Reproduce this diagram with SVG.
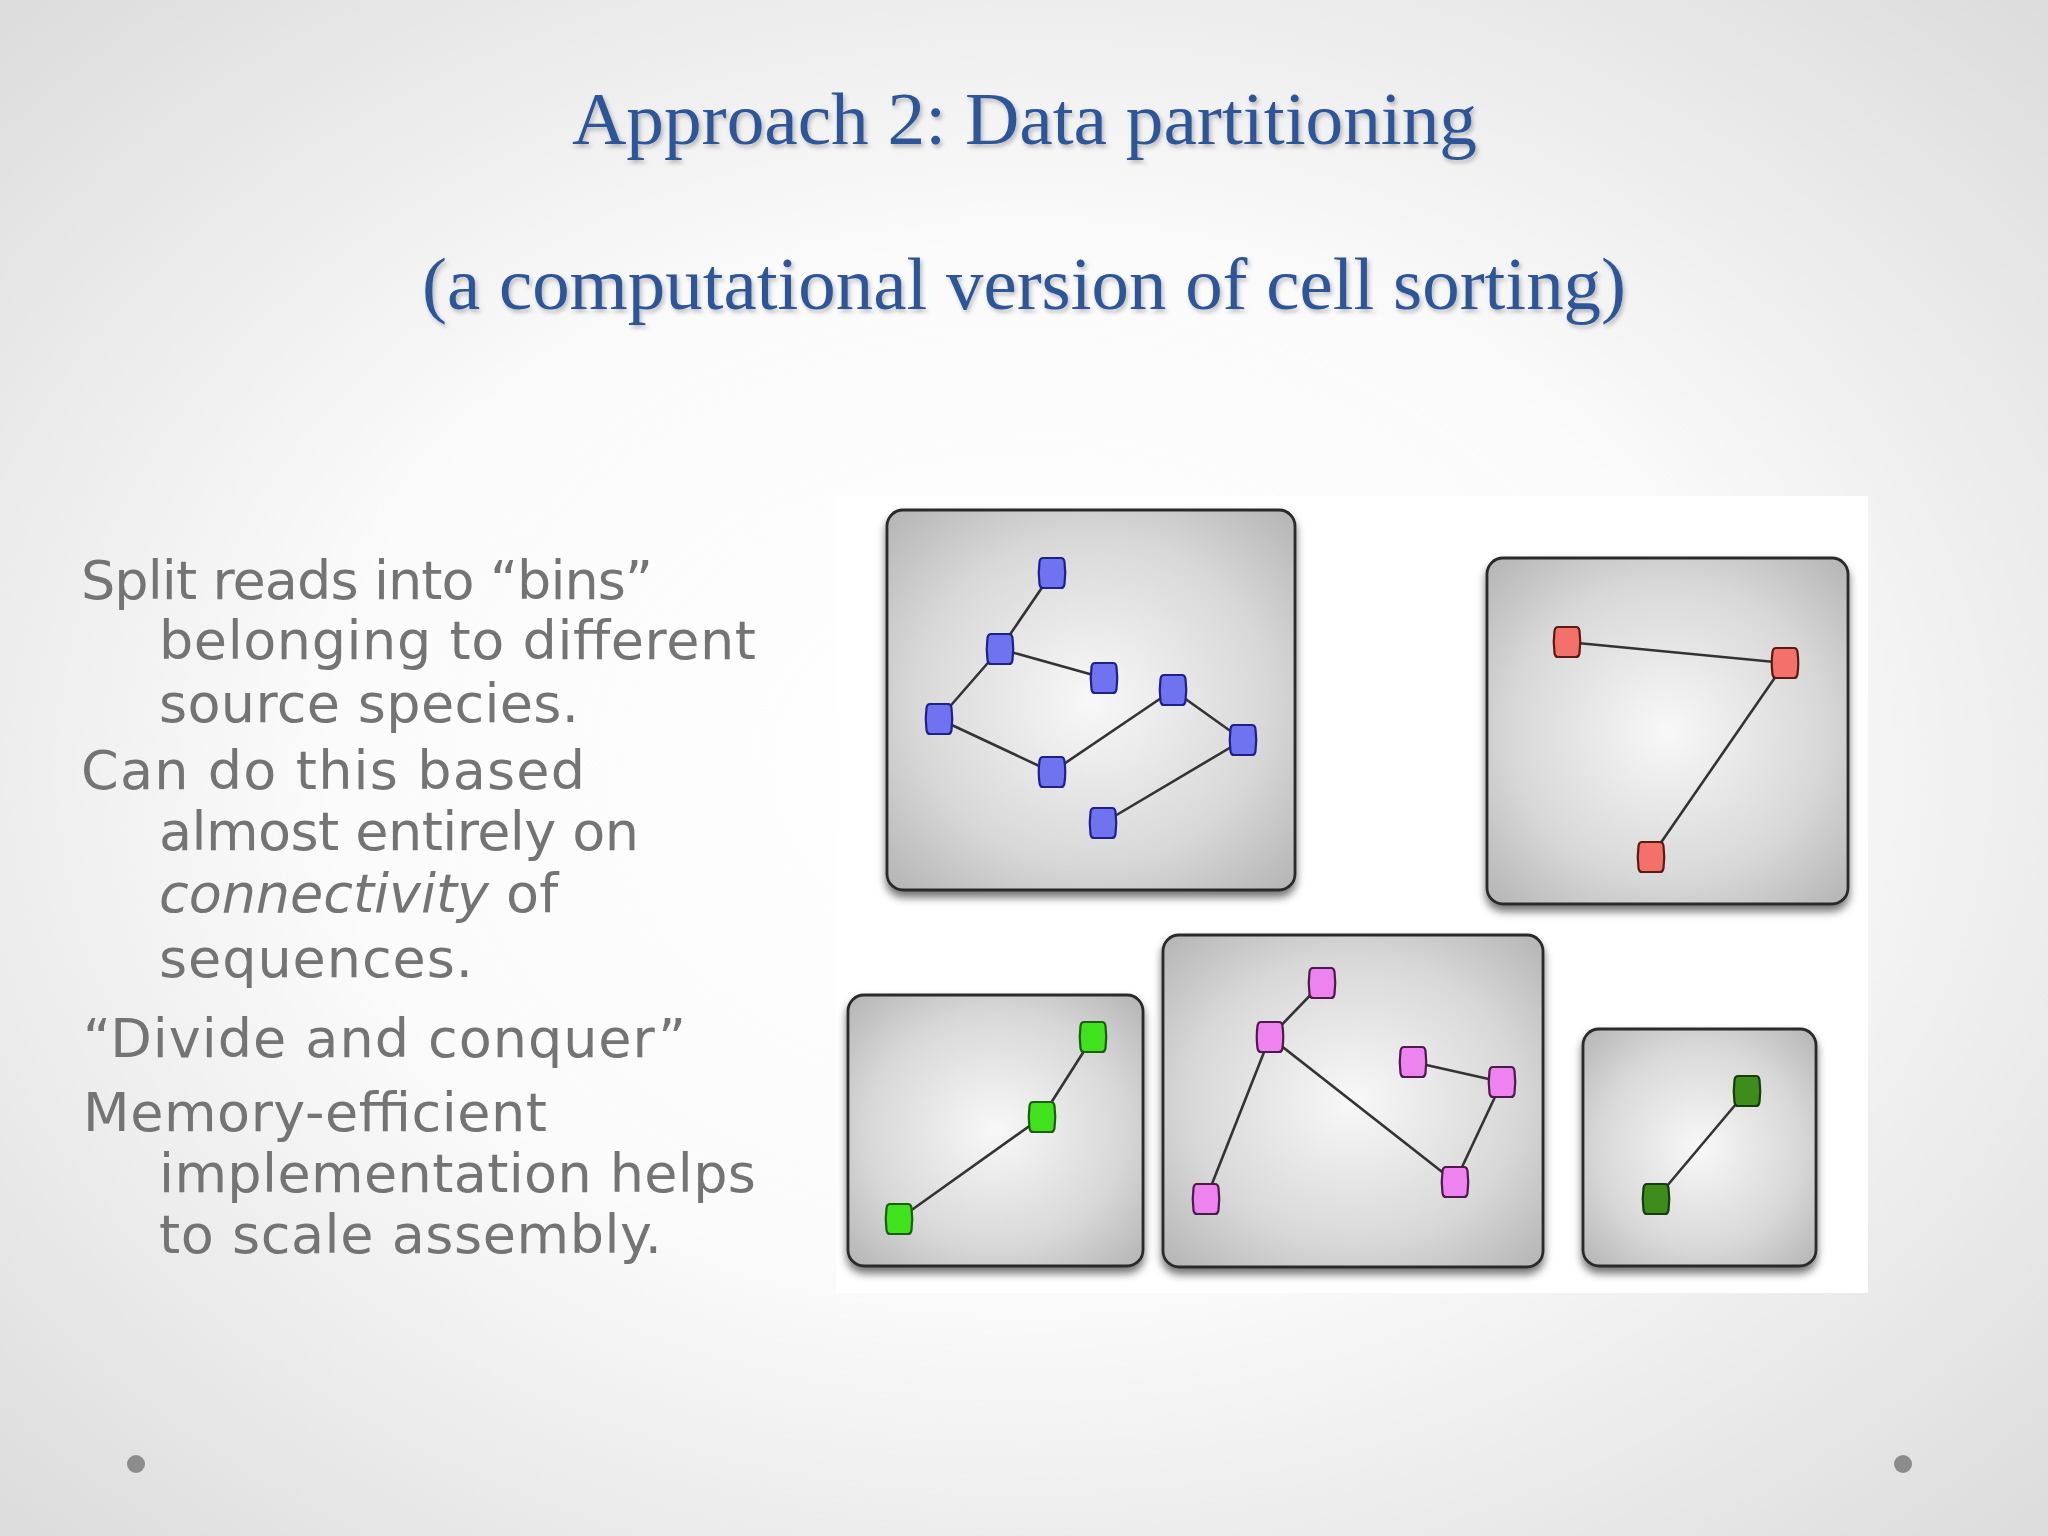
<svg xmlns="http://www.w3.org/2000/svg" xmlns:xlink="http://www.w3.org/1999/xlink" width="2048" height="1536" viewBox="0 0 2048 1536">
<defs>
  <radialGradient id="bg" cx="0.5" cy="0.5" r="0.75">
    <stop offset="0" stop-color="#ffffff"/>
    <stop offset="0.45" stop-color="#fbfbfb"/>
    <stop offset="1" stop-color="#d8d8d8"/>
  </radialGradient>
  <radialGradient id="panelFill" cx="0.5" cy="0.5" r="0.72">
    <stop offset="0" stop-color="#f8f8f8"/>
    <stop offset="0.6" stop-color="#d8d8d8"/>
    <stop offset="1" stop-color="#b2b2b2"/>
  </radialGradient>
  <filter id="panelShadow" x="-10%" y="-10%" width="120%" height="125%">
    <feDropShadow dx="0" dy="6" stdDeviation="4" flood-color="#000" flood-opacity="0.55"/>
  </filter>
  <filter id="titleShadow" x="-5%" y="-20%" width="110%" height="150%">
    <feDropShadow dx="2" dy="3" stdDeviation="2" flood-color="#000" flood-opacity="0.25"/>
  </filter>
  <path id="vtx" d="M -9,-15 L 9,-15 Q 12,-15 12.5,-11 Q 14,0 12.5,11 Q 12,15 9,15 L -9,15 Q -12,15 -12.5,11 Q -14,0 -12.5,-11 Q -12,-15 -9,-15 Z"/>
  <style>
    .title { font-family: "Liberation Serif", "Times New Roman", serif; font-size: 75px; fill: #2f5597; filter: url(#titleShadow); }
    .body { font-family: "DejaVu Sans", "Liberation Sans", sans-serif; font-size: 54px; fill: #747474; }
    .panel { fill: url(#panelFill); stroke: #2b2b2b; stroke-width: 2.8; filter: url(#panelShadow); }
    .edge { stroke: #333333; stroke-width: 2.6; fill: none; }
    .blue { fill: #6f73f0; stroke: #1f218a; stroke-width: 2.2; }
    .red { fill: #f4706a; stroke: #5c1a14; stroke-width: 2.2; }
    .lime { fill: #3fe21d; stroke: #1d5e12; stroke-width: 2.2; }
    .pink { fill: #ee82ee; stroke: #4d1a4a; stroke-width: 2.2; }
    .dgreen { fill: #3d8c1c; stroke: #173d0c; stroke-width: 2.2; }
    .dot { fill: #8c8c8c; }
  </style>
</defs>

<rect x="0" y="0" width="2048" height="1536" fill="url(#bg)"/>

<text class="title" x="572" y="144" textLength="905" lengthAdjust="spacingAndGlyphs">Approach 2: Data partitioning</text>
<text class="title" x="422" y="309" textLength="1204" lengthAdjust="spacingAndGlyphs">(a computational version of cell sorting)</text>

<g id="bullets">
  <text class="body" x="81" y="599" textLength="572">Split reads into “bins”</text>
  <text class="body" x="159" y="659" textLength="597">belonging to different</text>
  <text class="body" x="159" y="722" textLength="420">source species.</text>
  <text class="body" x="81" y="789" textLength="504">Can do this based</text>
  <text class="body" x="159" y="850" textLength="480">almost entirely on</text>
  <text class="body" x="159" y="912"><tspan font-style="italic" textLength="330">connectivity</tspan><tspan> of</tspan></text>
  <text class="body" x="159" y="977" textLength="314">sequences.</text>
  <text class="body" x="83" y="1057" textLength="603">“Divide and conquer”</text>
  <text class="body" x="83" y="1131" textLength="464">Memory-efficient</text>
  <text class="body" x="159" y="1192" textLength="597">implementation helps</text>
  <text class="body" x="159" y="1253" textLength="503">to scale assembly.</text>
</g>

<rect x="836" y="496" width="1032" height="797" fill="#ffffff"/>

<g id="panel-blue"><rect class="panel" x="887" y="510" width="408" height="380" rx="16"/></g>
<g id="panel-red"><rect class="panel" x="1487" y="558" width="361" height="346" rx="16"/></g>
<g id="panel-lime"><rect class="panel" x="848" y="995" width="295" height="271" rx="16"/></g>
<g id="panel-pink"><rect class="panel" x="1163" y="935" width="380" height="332" rx="16"/></g>
<g id="panel-dgreen"><rect class="panel" x="1583" y="1029" width="233" height="237" rx="16"/></g>

<g id="connectors">
  <line class="edge" x1="1052" y1="573" x2="1000" y2="649"/>
  <line class="edge" x1="1000" y1="649" x2="1104" y2="678"/>
  <line class="edge" x1="1000" y1="649" x2="939" y2="719"/>
  <line class="edge" x1="939" y1="719" x2="1052" y2="772"/>
  <line class="edge" x1="1052" y1="772" x2="1173" y2="690"/>
  <line class="edge" x1="1173" y1="690" x2="1243" y2="740"/>
  <line class="edge" x1="1243" y1="740" x2="1103" y2="823"/>

  <line class="edge" x1="1567" y1="642" x2="1785" y2="663"/>
  <line class="edge" x1="1785" y1="663" x2="1651" y2="857"/>

  <line class="edge" x1="1093" y1="1037" x2="1042" y2="1117"/>
  <line class="edge" x1="1042" y1="1117" x2="899" y2="1219"/>

  <line class="edge" x1="1322" y1="983" x2="1270" y2="1037"/>
  <line class="edge" x1="1270" y1="1037" x2="1206" y2="1199"/>
  <line class="edge" x1="1270" y1="1037" x2="1455" y2="1182"/>
  <line class="edge" x1="1413" y1="1062" x2="1502" y2="1082"/>
  <line class="edge" x1="1502" y1="1082" x2="1455" y2="1182"/>

  <line class="edge" x1="1747" y1="1091" x2="1656" y2="1199"/>
</g>

<g id="b1"><use xlink:href="#vtx" href="#vtx" class="blue" x="1052" y="573"/></g>
<g id="b2"><use xlink:href="#vtx" href="#vtx" class="blue" x="1000" y="649"/></g>
<g id="b3"><use xlink:href="#vtx" href="#vtx" class="blue" x="1104" y="678"/></g>
<g id="b4"><use xlink:href="#vtx" href="#vtx" class="blue" x="939" y="719"/></g>
<g id="b5"><use xlink:href="#vtx" href="#vtx" class="blue" x="1173" y="690"/></g>
<g id="b6"><use xlink:href="#vtx" href="#vtx" class="blue" x="1243" y="740"/></g>
<g id="b7"><use xlink:href="#vtx" href="#vtx" class="blue" x="1052" y="772"/></g>
<g id="b8"><use xlink:href="#vtx" href="#vtx" class="blue" x="1103" y="823"/></g>

<g id="r1"><use xlink:href="#vtx" href="#vtx" class="red" x="1567" y="642"/></g>
<g id="r2"><use xlink:href="#vtx" href="#vtx" class="red" x="1785" y="663"/></g>
<g id="r3"><use xlink:href="#vtx" href="#vtx" class="red" x="1651" y="857"/></g>

<g id="g1"><use xlink:href="#vtx" href="#vtx" class="lime" x="1093" y="1037"/></g>
<g id="g2"><use xlink:href="#vtx" href="#vtx" class="lime" x="1042" y="1117"/></g>
<g id="g3"><use xlink:href="#vtx" href="#vtx" class="lime" x="899" y="1219"/></g>

<g id="p1"><use xlink:href="#vtx" href="#vtx" class="pink" x="1322" y="983"/></g>
<g id="p2"><use xlink:href="#vtx" href="#vtx" class="pink" x="1270" y="1037"/></g>
<g id="p3"><use xlink:href="#vtx" href="#vtx" class="pink" x="1413" y="1062"/></g>
<g id="p4"><use xlink:href="#vtx" href="#vtx" class="pink" x="1502" y="1082"/></g>
<g id="p5"><use xlink:href="#vtx" href="#vtx" class="pink" x="1455" y="1182"/></g>
<g id="p6"><use xlink:href="#vtx" href="#vtx" class="pink" x="1206" y="1199"/></g>

<g id="d1"><use xlink:href="#vtx" href="#vtx" class="dgreen" x="1747" y="1091"/></g>
<g id="d2"><use xlink:href="#vtx" href="#vtx" class="dgreen" x="1656" y="1199"/></g>

<circle class="dot" cx="136" cy="1464" r="9"/>
<circle class="dot" cx="1903" cy="1464" r="9"/>
</svg>
